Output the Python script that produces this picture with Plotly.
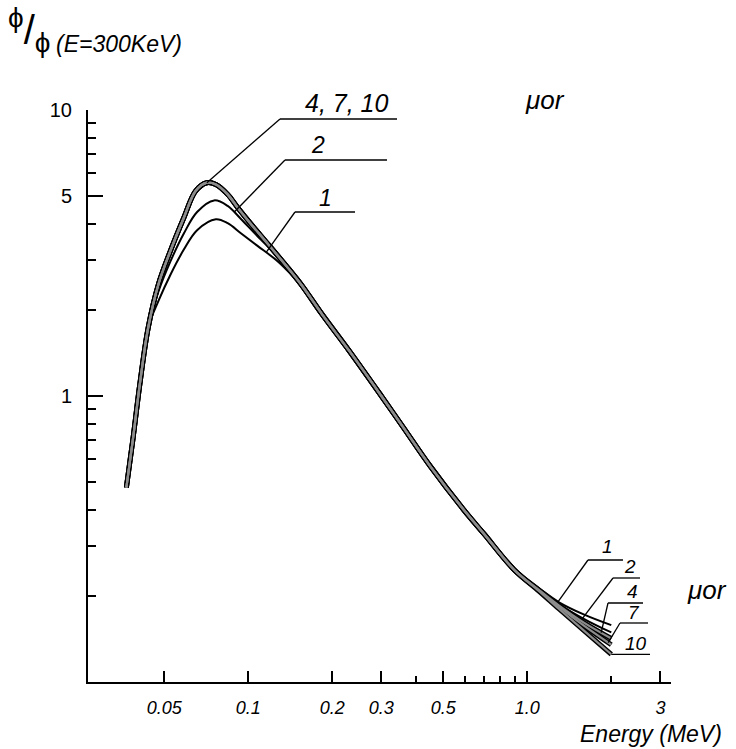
import numpy as np
import plotly.graph_objects as go

# ---------------- data ----------------
mu_r_values = [1, 2, 4, 7, 10]

# common rising branch (all mu r)
energy_rise = [0.0366, 0.0387, 0.0409, 0.0438]
ratio_rise = [0.478, 0.715, 1.10, 1.73]

# peak region, mu r = 4, 7, 10 (coincident)
energy_peak_top = [0.0477, 0.0526, 0.0588, 0.0648, 0.0711, 0.0766, 0.0844, 0.0918, 0.1026, 0.118, 0.139, 0.156]
ratio_peak_top = [2.46, 3.21, 4.20, 5.21, 5.57, 5.49, 5.07, 4.55, 3.98, 3.39, 2.80, 2.43]

# peak region, mu r = 2
energy_peak_2 = [0.0477, 0.0526, 0.0588, 0.0656, 0.0755, 0.0844, 0.0944, 0.108, 0.128, 0.147, 0.156]
ratio_peak_2 = [2.32, 2.95, 3.70, 4.40, 4.83, 4.62, 4.15, 3.62, 3.07, 2.62, 2.43]

# peak region, mu r = 1
energy_peak_1 = [0.0477, 0.0526, 0.0588, 0.0656, 0.0766, 0.0844, 0.0944, 0.108, 0.128, 0.147, 0.156]
ratio_peak_1 = [2.15, 2.65, 3.25, 3.80, 4.15, 4.02, 3.70, 3.35, 2.95, 2.58, 2.43]

# common falling branch
energy_fall = [0.184, 0.230, 0.300, 0.360, 0.448, 0.592, 0.699, 0.897]
ratio_fall = [1.93, 1.44, 1.00, 0.775, 0.57, 0.40, 0.33, 0.247]

# high-energy tails
energy_tail = [1.1, 1.3, 1.6, 2.0]
ratio_tail_1 = [0.213, 0.190, 0.172, 0.158]
ratio_tail_2 = [0.211, 0.187, 0.166, 0.149]
ratio_tail_4 = [0.210, 0.185, 0.161, 0.142]
ratio_tail_7 = [0.209, 0.183, 0.157, 0.135]
ratio_tail_10 = [0.208, 0.180, 0.151, 0.125]

x_major_ticks = [0.05, 0.1, 0.2, 0.3, 0.5, 1.0, 3]
x_major_text = ["0.05", "0.1", "0.2", "0.3", "0.5", "1.0", "3"]
x_minor_ticks = [0.4, 0.6, 0.7, 0.8, 0.9, 2]
y_major_ticks = [10, 5, 1]
y_major_text = ["10", "5", "1"]
y_minor_ticks = [9, 8, 7, 6, 4, 3, 2, 0.9, 0.8, 0.7, 0.6, 0.5, 0.4, 0.3, 0.2]

# ---------------- build curves ----------------
def build(peak_e, peak_r, tail_r):
    e = energy_rise + peak_e + energy_fall + energy_tail
    r = ratio_rise + peak_r + ratio_fall + tail_r
    return np.array(e), np.array(r)

curves = {
    1: build(energy_peak_1, ratio_peak_1, ratio_tail_1),
    2: build(energy_peak_2, ratio_peak_2, ratio_tail_2),
    4: build(energy_peak_top, ratio_peak_top, ratio_tail_4),
    7: build(energy_peak_top, ratio_peak_top, ratio_tail_7),
    10: build(energy_peak_top, ratio_peak_top, ratio_tail_10),
}

# ---------------- layout geometry ----------------
FW, FH = 736, 749
L, T, R, B = 88, 110, 65, 67
W, H = FW - L - R, FH - T - B
XR = [-1.574, 0.515]
YR = [-1.0, 1.0]

def px(e):
    return L + (np.log10(e) - XR[0]) / (XR[1] - XR[0]) * W

def py(v):
    return T + (YR[1] - np.log10(v)) / (YR[1] - YR[0]) * H

def paper_x(p):
    return (p - L) / W

def paper_y(p):
    return 1 - (p - T) / H

def value_on(mu, e):
    ce, cr = curves[mu]
    return 10 ** np.interp(np.log10(e), np.log10(ce), np.log10(cr))

FONT = "Liberation Sans"

fig = go.Figure()

for mu in [1, 2]:
    ce, cr = curves[mu]
    fig.add_trace(go.Scatter(x=ce, y=cr, mode="lines",
                             line=dict(color="black", width=2, shape="spline"),
                             name=f"{mu}", hoverinfo="skip"))
for mu in [4, 7, 10]:
    ce, cr = curves[mu]
    fig.add_trace(go.Scatter(x=ce, y=cr, mode="lines",
                             line=dict(color="black", width=5, shape="spline"),
                             name=f"{mu}", hoverinfo="skip"))
for mu in [4, 7, 10]:
    ce, cr = curves[mu]
    fig.add_trace(go.Scatter(x=ce, y=cr, mode="lines",
                             line=dict(color="#8c8c8c", width=2.2, shape="spline"),
                             name=f"{mu}", hoverinfo="skip", showlegend=False))

annotations = []
shapes = []

# leaders: (curve, energy at anchor, elbow px or None, horizontal end x, label, label centre, font size)
leaders = [
    (10, 0.0711, (280, 119), 397, "4, 7, 10", (346, 103), 25),
    (2, 0.089, (285, 160), 387, "2", (318, 145), 23),
    (1, 0.116, (295, 212), 355, "1", (325, 198), 23),
    (1, 1.29, (588, 560), 623, "1", (607, 546), 19),
    (2, 1.58, (613, 578), 640, "2", (630, 566), 19),
    (4, 1.84, (608, 603), 643, "4", (632, 591), 19),
    (7, 1.95, (620, 623), 648, "7", (634, 612), 19),
    (10, 2.0, None, 650, "10", (636, 643), 19),
]

LEADER = dict(color="black", width=1.3)
for mu, e, elbow, xend, label, tc, fs in leaders:
    v = value_on(mu, e)
    ax_px, ay_px = px(e), py(v)
    if elbow is None:
        elbow = (ax_px, ay_px)
    else:
        shapes.append(dict(type="line", xref="paper", yref="paper",
                           x0=paper_x(ax_px), y0=paper_y(ay_px),
                           x1=paper_x(elbow[0]), y1=paper_y(elbow[1]), line=LEADER))
    shapes.append(dict(type="line", xref="paper", yref="paper",
                       x0=paper_x(elbow[0]), x1=paper_x(xend),
                       y0=paper_y(elbow[1]), y1=paper_y(elbow[1]), line=LEADER))
    annotations.append(dict(x=paper_x(tc[0]), y=paper_y(tc[1]), xref="paper", yref="paper",
                            text=label, showarrow=False, xanchor="center", yanchor="middle",
                            font=dict(family=FONT, size=fs, color="black", style="italic")))

# mu r labels
for cx, cy in [(545, 100), (707, 590)]:
    annotations.append(dict(x=paper_x(cx), y=paper_y(cy), xref="paper", yref="paper",
                            text="μor", showarrow=False, xanchor="center", yanchor="middle",
                            font=dict(family=FONT, size=26, color="black", style="italic")))

# y axis title : phi / phi (E=300KeV)
annotations.append(dict(x=paper_x(6), y=paper_y(30), xref="paper", yref="paper",
                        text="<sup>ϕ</sup>/<sub>ϕ</sub>", showarrow=False,
                        xanchor="left", yanchor="middle",
                        font=dict(family=FONT, size=40, color="black")))
annotations.append(dict(x=paper_x(54), y=paper_y(44), xref="paper", yref="paper",
                        text="(E=300KeV)", showarrow=False, xanchor="left", yanchor="middle",
                        font=dict(family=FONT, size=23, color="black", style="italic")))

# x axis title
annotations.append(dict(x=paper_x(724), y=paper_y(734), xref="paper", yref="paper",
                        text="Energy (MeV)", showarrow=False, xanchor="right", yanchor="middle",
                        font=dict(family=FONT, size=23, color="black", style="italic")))

fig.update_layout(
    width=FW, height=FH, autosize=False,
    margin=dict(l=L, r=R, t=T, b=B, pad=0),
    paper_bgcolor="white", plot_bgcolor="white",
    showlegend=False,
    annotations=annotations, shapes=shapes,
)

fig.update_xaxes(
    type="log", range=XR, showgrid=False, zeroline=False,
    showline=True, linecolor="black", linewidth=2,
    ticks="inside", ticklen=11, tickwidth=1.6, tickcolor="black",
    tickmode="array", tickvals=x_major_ticks, ticktext=x_major_text,
    tickfont=dict(family=FONT, size=18, color="black", style="italic"),
    ticklabelstandoff=8,
    minor=dict(tickmode="array", tickvals=x_minor_ticks, ticks="inside",
               ticklen=6, tickwidth=1.5, tickcolor="black", showgrid=False),
)
fig.update_yaxes(
    type="log", range=YR, showgrid=False, zeroline=False,
    showline=True, linecolor="black", linewidth=2,
    ticks="inside", ticklen=15, tickwidth=2, tickcolor="black",
    tickmode="array", tickvals=y_major_ticks, ticktext=y_major_text,
    tickfont=dict(family=FONT, size=20, color="black"),
    ticklabelstandoff=10,
    minor=dict(tickmode="array", tickvals=y_minor_ticks, ticks="inside",
               ticklen=8, tickwidth=1.5, tickcolor="black", showgrid=False),
)

fig.write_html("out.html")
